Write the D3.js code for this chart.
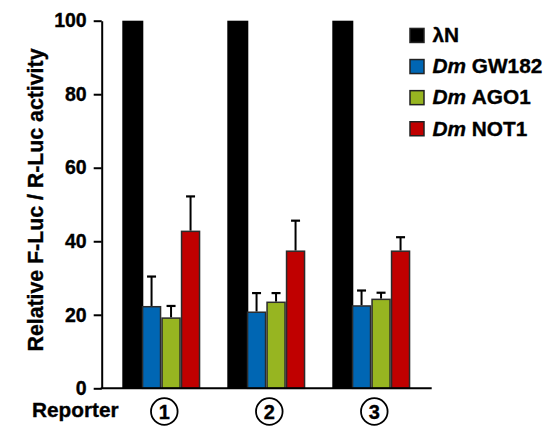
<!DOCTYPE html>
<html>
<head>
<meta charset="utf-8">
<script src="https://cdn.jsdelivr.net/npm/d3@7"></script>
<style>
  html, body { margin: 0; padding: 0; background: #fff; }
  svg { display: block; font-family: "Liberation Sans", Arial, Helvetica, sans-serif; font-weight: bold; }
  text { stroke: #000; stroke-width: 0.35px; }
</style>
</head>
<body>
<svg id="chart" width="547" height="426"></svg>
<script>
// ---- data ----
const reporters = ["1", "2", "3"];
const seriesNames = ["λN", "GW182", "AGO1", "NOT1"];
const seriesPrefix = ["", "Dm", "Dm", "Dm"];
const seriesColors = ["#000000", "#0066b3", "#97b521", "#c00000"];
const lambdaN = [100, 100, 100];
const gw182 = [22.4, 20.9, 22.6];
const ago1 = [19.3, 23.6, 24.4];
const not1 = [42.9, 37.5, 37.5];
const gw182Err = [8.0, 5.0, 4.0];
const ago1Err = [3.1, 2.3, 1.6];
const not1Err = [9.3, 8.1, 3.6];
const yTicks = [0, 20, 40, 60, 80, 100];
const yLabel = "Relative F-Luc / R-Luc activity";
const xLabel = "Reporter";

const values = [lambdaN, gw182, ago1, not1];
const errors = [null, gw182Err, ago1Err, not1Err];

// ---- layout ----
const svg = d3.select("#chart");
const axisX = 101.7;
const y = d3.scaleLinear().domain([0, 100]).range([388.3, 20.7]);
const x0 = d3.scaleBand().domain(reporters).range([122.3, 122.3 + 105 * 3 - 27]).paddingInner(27 / 105).paddingOuter(0);
const x1 = d3.scaleBand().domain(d3.range(seriesNames.length)).range([0, x0.bandwidth()]);

// bars
reporters.forEach((r, gi) => {
  const g = svg.append("g").attr("transform", `translate(${x0(r)},0)`);
  seriesNames.forEach((s, si) => {
    const v = values[si][gi];
    g.append("rect")
      .attr("x", x1(si) + (si === 0 ? 0 : 0.75))
      .attr("y", y(v) + (si === 0 ? 0 : 0.75))
      .attr("width", x1.bandwidth() + (si === 0 ? 1.5 : -1.5))
      .attr("height", y(0) - y(v) - (si === 0 ? 0 : 0.75))
      .attr("fill", seriesColors[si])
      .attr("stroke", si === 0 ? "none" : "#2b2b2b")
      .attr("stroke-width", 1.5);
    if (errors[si]) {
      const cx = x1(si) + x1.bandwidth() / 2;
      const top = y(v + errors[si][gi]);
      g.append("line").attr("x1", cx).attr("x2", cx).attr("y1", y(v)).attr("y2", top)
        .attr("stroke", "#000").attr("stroke-width", 2);
      g.append("line").attr("x1", cx - 4.5).attr("x2", cx + 4.5).attr("y1", top).attr("y2", top)
        .attr("stroke", "#000").attr("stroke-width", 2.2);
    }
  });
});

// y axis
const yAxis = svg.append("g")
  .attr("transform", `translate(${axisX},0)`)
  .call(d3.axisLeft(y).tickValues(yTicks).tickSize(8).tickPadding(7).tickSizeOuter(0));
yAxis.select(".domain").attr("stroke", "#000").attr("stroke-width", 2);
yAxis.selectAll(".tick line").attr("stroke", "#000").attr("stroke-width", 2);
yAxis.selectAll(".tick text")
  .attr("font-family", "Liberation Sans, Arial, sans-serif")
  .attr("font-weight", "bold")
  .attr("font-size", 19.5)
  .attr("fill", "#000");

// x axis line
svg.append("line")
  .attr("x1", axisX - 1).attr("x2", 431.7)
  .attr("y1", y(0)).attr("y2", y(0))
  .attr("stroke", "#000").attr("stroke-width", 2);

// y label
svg.append("text")
  .attr("transform", `translate(43,200) rotate(-90)`)
  .attr("text-anchor", "middle")
  .attr("font-size", 21.3)
  .attr("fill", "#000")
  .text(yLabel);

// x label
svg.append("text")
  .attr("x", 32).attr("y", 416.5)
  .attr("font-size", 20.8)
  .attr("fill", "#000")
  .text(xLabel);

// reporter circles
reporters.forEach(r => {
  const cx = x0(r) + x0.bandwidth() / 2 + 3;
  svg.append("circle").attr("cx", cx).attr("cy", 411.5).attr("r", 13.3)
    .attr("fill", "none").attr("stroke", "#000").attr("stroke-width", 1.8);
  svg.append("text").attr("x", cx).attr("y", 418.8)
    .attr("text-anchor", "middle").attr("font-size", 20).attr("fill", "#000").text(r);
});

// legend
const legend = svg.append("g");
seriesNames.forEach((s, i) => {
  const ly = 27.7 + i * 31.1;
  legend.append("rect")
    .attr("x", 410).attr("y", ly + 0.75)
    .attr("width", 14).attr("height", 14)
    .attr("fill", seriesColors[i])
    .attr("stroke", "#222").attr("stroke-width", 1.5);
  const t = legend.append("text").attr("x", 432.5).attr("y", ly + 14.5)
    .attr("font-size", 20.8).attr("fill", "#000");
  if (seriesPrefix[i]) {
    t.append("tspan").attr("font-style", "italic").text(seriesPrefix[i] + " ");
  }
  t.append("tspan").text(s);
});
</script>
</body>
</html>
